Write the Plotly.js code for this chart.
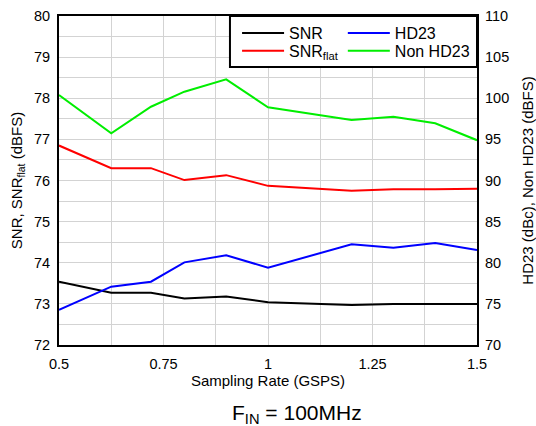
<!DOCTYPE html>
<html><head><meta charset="utf-8">
<script src="https://cdn.plot.ly/plotly-3.0.1.min.js"></script>
<style>body{margin:0;padding:0;background:#fff}#c{width:536px;height:426px}</style>
</head><body><div id="c"></div>
<script>
const rates = [0.5, 0.625, 0.72, 0.8, 0.9, 1.0, 1.2, 1.3, 1.4, 1.5];
const snr = [73.54, 73.27, 73.27, 73.13, 73.18, 73.04, 72.97, 73.0, 73.0, 73.0];
const snrFlat = [76.85, 76.30, 76.30, 76.01, 76.13, 75.87, 75.75, 75.79, 75.79, 75.80];
const hd23 = [74.26, 77.09, 77.7, 80.05, 80.9, 79.4, 82.24, 81.83, 82.4, 81.55];
const nonHd23 = [100.4, 95.74, 98.97, 100.8, 102.3, 98.9, 97.36, 97.76, 96.95, 94.9];

const traces = [
  {x: rates, y: snr, name: 'SNR', type: 'scatter', mode: 'lines', line: {color: '#000000', width: 2}, yaxis: 'y', legend: 'legend'},
  {x: rates, y: snrFlat, name: 'SNR<sub>flat</sub>', type: 'scatter', mode: 'lines', line: {color: '#ff0000', width: 2}, yaxis: 'y', legend: 'legend2'},
  {x: rates, y: hd23, name: 'HD23', type: 'scatter', mode: 'lines', line: {color: '#0000ff', width: 2}, yaxis: 'y2', legend: 'legend3'},
  {x: rates, y: nonHd23, name: 'Non HD23', type: 'scatter', mode: 'lines', line: {color: '#00ee00', width: 2}, yaxis: 'y2', legend: 'legend4'}
];
const font = {family: 'Liberation Sans, Arial, sans-serif', color: '#000'};
const f = s => Object.assign({size: s}, font);
const legBase = {orientation: 'h', xanchor: 'left', yanchor: 'middle',
  bgcolor: 'rgba(0,0,0,0)', borderwidth: 0, itemwidth: 42, font: f(16)};
const layout = {
  width: 536, height: 426,
  margin: {l: 59, r: 59, t: 16, b: 81},
  paper_bgcolor: '#fff', plot_bgcolor: '#fff',
  font: f(14),
  showlegend: true,
  legend: Object.assign({}, legBase, {x: 0.426, y: 0.948}),
  legend2: Object.assign({}, legBase, {x: 0.426, y: 0.894}),
  legend3: Object.assign({}, legBase, {x: 0.679, y: 0.948}),
  legend4: Object.assign({}, legBase, {x: 0.679, y: 0.894}),
  shapes: [{type: 'rect', xref: 'paper', yref: 'paper', x0: 0.409, x1: 1, y0: 0.845, y1: 1,
    fillcolor: '#fff', line: {color: '#000', width: 2}, layer: 'above'}],
  xaxis: {range: [0.5, 1.5], dtick: 0.25, tick0: 0.5, showgrid: true, gridcolor: '#d3d3d3', gridwidth: 1,
    minor: {dtick: 0.125, showgrid: true, gridcolor: '#d3d3d3', gridwidth: 1},
    showline: true, linecolor: '#000', linewidth: 2, mirror: true, ticks: '', zeroline: false,
    tickfont: f(14.5), ticklabelstandoff: 5,
    title: {text: 'Sampling Rate (GSPS)', font: f(15), standoff: 2}},
  yaxis: {range: [72, 80], dtick: 1, showgrid: true, gridcolor: '#d3d3d3', gridwidth: 1,
    minor: {dtick: 0.5, showgrid: true, gridcolor: '#d3d3d3', gridwidth: 1},
    showline: true, linecolor: '#000', linewidth: 2, mirror: true, ticks: '', zeroline: false,
    tickfont: f(14.5), ticklabelstandoff: 4,
    title: {text: 'SNR, SNR<sub>flat</sub> (dBFS)', font: f(15), standoff: 8}},
  yaxis2: {range: [70, 110], dtick: 5, overlaying: 'y', side: 'right', showgrid: false, zeroline: false,
    showline: false, ticks: '', tickfont: f(14.5), ticklabelstandoff: 7,
    title: {text: 'HD23 (dBc), Non HD23 (dBFS)', font: f(15), standoff: 14}},
  annotations: [{text: 'F<sub>IN</sub> = 100MHz', xref: 'paper', yref: 'paper', x: 0.569, y: -0.165,
    xanchor: 'center', yanchor: 'top', showarrow: false, font: f(21)}]
};
Plotly.newPlot('c', traces, layout, {displayModeBar: false, staticPlot: true});
</script></body></html>
